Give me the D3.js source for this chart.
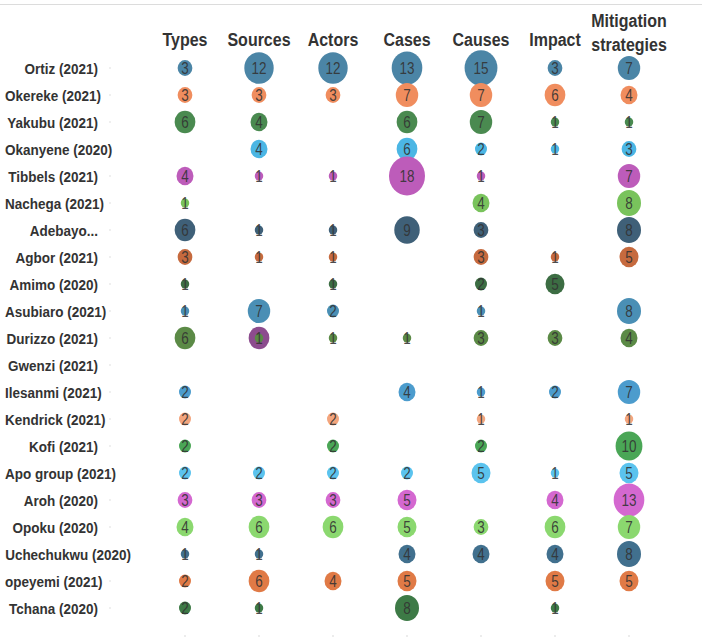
<!DOCTYPE html>
<html>
<head>
<meta charset="utf-8">
<script src="https://cdn.jsdelivr.net/npm/d3@7"></script>
<style>
  body { margin: 0; background: #fff; }
  text { font-family: "Liberation Sans", Arial, sans-serif; }
</style>
</head>
<body>
<div id="chart"></div>
<script>
var authors = ["Ortiz (2021)", "Okereke (2021)", "Yakubu (2021)", "Okanyene (2020)", "Tibbels (2021)",
               "Nachega (2021)", "Adebayo...", "Agbor (2021)", "Amimo (2020)", "Asubiaro (2021)",
               "Durizzo (2021)", "Gwenzi (2021)", "Ilesanmi (2021)", "Kendrick (2021)", "Kofi (2021)",
               "Apo group (2021)", "Aroh (2020)", "Opoku (2020)", "Uchechukwu (2020)", "opeyemi (2021)",
               "Tchana (2020)"];

var categories = ["Types", "Sources", "Actors", "Cases", "Causes", "Impact", "Mitigation strategies"];

// one row per author, one value per category (null = no mark)
var counts = [
  [3, 12, 12, 13, 15, 3, 7],
  [3, 3, 3, 7, 7, 6, 4],
  [6, 4, null, 6, 7, 1, 1],
  [null, 4, null, 6, 2, 1, 3],
  [4, 1, 1, 18, 1, null, 7],
  [1, null, null, null, 4, null, 8],
  [6, 1, 1, 9, 3, null, 8],
  [3, 1, 1, null, 3, 1, 5],
  [1, null, 1, null, 2, 5, null],
  [1, 7, 2, null, 1, null, 8],
  [6, 1, 1, 1, 3, 3, 4],
  [null, null, null, null, null, null, null],
  [2, null, null, 4, 1, 2, 7],
  [2, null, 2, null, 1, null, 1],
  [2, null, 2, null, 2, null, 10],
  [2, 2, 2, 2, 5, 1, 5],
  [3, 3, 3, 5, null, 4, 13],
  [4, 6, 6, 5, 3, 6, 7],
  [1, 1, null, 4, 4, 4, 8],
  [2, 6, 4, 5, null, 5, 5],
  [2, 1, null, 8, null, 1, null]
];

var rowColors = ["#4b85a6", "#f08d5e", "#4a8a50", "#4bb6e4", "#bd5cba",
                 "#79c35c", "#3f6078", "#c66a3e", "#3c6d43", "#4a8fb5",
                 "#5b8a46", "#999999", "#4c9ccd", "#f3a57e", "#4aa656",
                 "#5bc3ee", "#d468d0", "#8bd86f", "#41708e", "#e07a46",
                 "#3d7a46"];

// the Durizzo "Sources" mark sits on top of a larger purple one
var hiddenMarks = [ { author: "Durizzo (2021)", category: "Sources", value: 6, color: "#8c4c8e" } ];

var width = 702, height = 639;
var stretch = 1.08;   // marks and text look a little taller than wide

var svg = d3.select("#chart").append("svg")
  .attr("width", width)
  .attr("height", height);

var x = d3.scalePoint().domain(categories).range([185, 629]);
var y = d3.scalePoint().domain(authors).range([68, 608]);
var r = d3.scaleSqrt().domain([0, 18]).range([0, 18]);

// top rule
svg.append("line")
  .attr("x1", 0).attr("x2", width)
  .attr("y1", 4.5).attr("y2", 4.5)
  .attr("stroke", "#dcdcdc");

// faint ticks beside labels and under columns
svg.selectAll(".rtick")
  .data(authors)
  .enter()
  .append("rect")
  .attr("x", 109).attr("width", 2)
  .attr("y", function(d) { return y(d) - 1; }).attr("height", 2)
  .attr("fill", "#efefef");

svg.selectAll(".ctick")
  .data(categories)
  .enter()
  .append("rect")
  .attr("x", function(d) { return x(d) - 1; }).attr("width", 2)
  .attr("y", 635).attr("height", 2)
  .attr("fill", "#ececec");

// column headers
svg.selectAll(".head")
  .data(categories)
  .enter()
  .append("g")
  .attr("class", "head")
  .attr("transform", function(d) { return "translate(" + x(d) + ",0) scale(1,1.18)"; })
  .each(function(d) {
    var words = d.split(" ");
    var t = d3.select(this).append("text")
      .attr("text-anchor", "middle")
      .attr("font-size", 16)
      .attr("font-weight", "bold")
      .attr("fill", "#333");
    if (words.length == 1) {
      t.append("tspan").attr("x", 0).attr("y", 46 / 1.18).text(d);
    } else {
      t.append("tspan").attr("x", 0).attr("y", 27 / 1.18).text(words[0]);
      t.append("tspan").attr("x", 0).attr("y", 51 / 1.18).text(words[1]);
    }
  });

// row labels: right aligned at 98, pushed right when they would run off the left edge
var labels = svg.selectAll(".label")
  .data(authors)
  .enter()
  .append("text")
  .attr("class", "label")
  .attr("text-anchor", "end")
  .attr("font-size", 13.5)
  .attr("font-weight", "bold")
  .attr("fill", "#333")
  .text(function(d) { return d; });

labels.attr("transform", function(d) {
  var w = this.getComputedTextLength();
  var xr = Math.max(98, 5 + w);
  return "translate(" + xr + "," + (y(d) + 5.5) + ") scale(1,1.15)";
});

// flatten
var marks = [];
authors.forEach(function(a, i) {
  categories.forEach(function(c, j) {
    if (counts[i][j] != null) marks.push({ author: a, category: c, value: counts[i][j], color: rowColors[i] });
  });
});

svg.selectAll(".hidden")
  .data(hiddenMarks)
  .enter()
  .append("ellipse")
  .attr("cx", function(d) { return x(d.category); })
  .attr("cy", function(d) { return y(d.author); })
  .attr("rx", function(d) { return r(d.value); })
  .attr("ry", function(d) { return r(d.value) * stretch; })
  .attr("fill", function(d) { return d.color; });

var g = svg.selectAll(".mark")
  .data(marks)
  .enter()
  .append("g")
  .attr("class", "mark");

g.append("ellipse")
  .attr("cx", function(d) { return x(d.category); })
  .attr("cy", function(d) { return y(d.author); })
  .attr("rx", function(d) { return r(d.value); })
  .attr("ry", function(d) { return r(d.value) * stretch; })
  .attr("fill", function(d) { return d.color; });

g.append("text")
  .attr("transform", function(d) {
    return "translate(" + x(d.category) + "," + (y(d.author) + 5.5) + ") scale(1,1.2)";
  })
  .attr("text-anchor", "middle")
  .attr("font-size", 13.5)
  .attr("fill", "#333")
  .attr("fill-opacity", 0.9)
  .text(function(d) { return d.value; });
</script>
</body>
</html>
